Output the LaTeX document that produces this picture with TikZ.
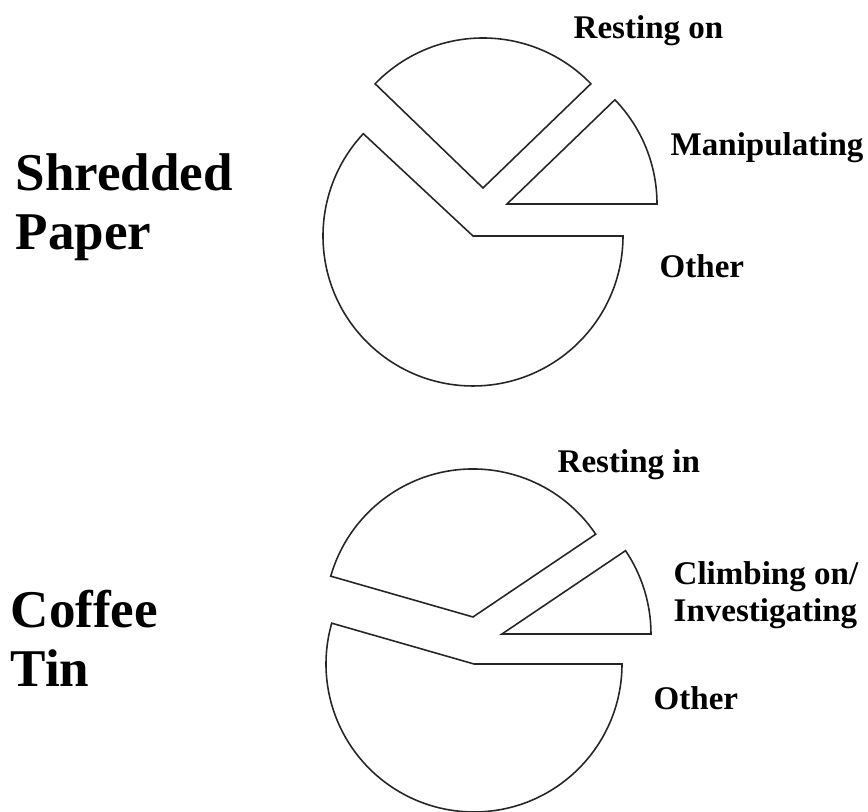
\documentclass[tikz,border=0pt]{standalone}
\usepackage{fontspec}
\setmainfont{Liberation Serif}
\usepackage{tikz}
\tikzset{
    slice/.style={draw=black!85, line width=0.45pt},
    lbl/.style={anchor=base west, inner sep=0pt, font=\bfseries\fontsize{9.4}{10.6}\selectfont, align=left},
    ttl/.style={anchor=base west, inner sep=0pt, font=\bfseries\fontsize{15.1}{17}\selectfont, align=left}
}

\begin{document}
\begin{tikzpicture}[scale=1]

     \useasboundingbox (0,0) rectangle (8.68,8.12);

     \draw[slice] (4.73,5.76) -- ++(0:1.5) arc[start angle=0, end angle=-223, radius=1.5] -- cycle;
     \draw[slice] (4.83,6.24) -- ++(44:1.5) arc[start angle=44, end angle=136, radius=1.5] -- cycle;
     \draw[slice] (5.07,6.08) -- ++(0:1.5) arc[start angle=0, end angle=44, radius=1.5] -- cycle;

     \node[ttl] (shred) at (0.15,5.62) {Shredded\\Paper};
     \node[lbl] (restOn) at (5.73,7.73) {Resting on};
     \node[lbl] (manip) at (6.70,6.56) {Manipulating};
     \node[lbl] (otherA) at (6.59,5.34) {Other};

     \draw[slice] (4.74,1.48) -- ++(0:1.48) arc[start angle=0, end angle=-196, radius=1.48] -- cycle;
     \draw[slice] (4.73,1.95) -- ++(34:1.48) arc[start angle=34, end angle=164, radius=1.48] -- cycle;
     \draw[slice] (5.02,1.78) -- ++(0:1.49) arc[start angle=0, end angle=34, radius=1.49] -- cycle;

     \node[ttl] (coffee) at (0.10,1.25) {Coffee\\Tin};
     \node[lbl] (restIn) at (5.57,3.39) {Resting in};
     \node[lbl] (climb) at (6.73,1.90) {Climbing on/\\Investigating};
     \node[lbl] (otherB) at (6.53,1.02) {Other};

\end{tikzpicture}
\end{document}
